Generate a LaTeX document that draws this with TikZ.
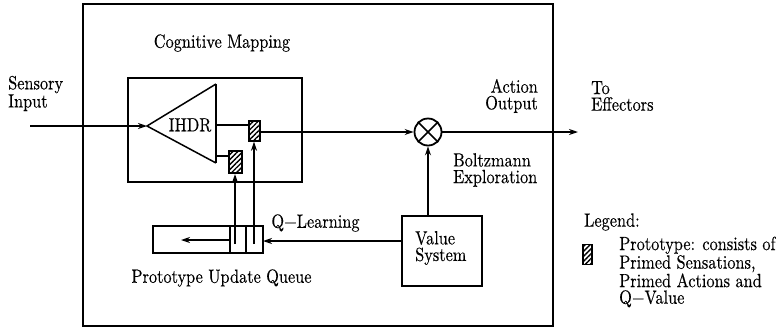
\documentclass[tikz,border=0pt]{standalone}
\usepackage{fontspec}
\setmainfont{lmroman10-regular.otf}
\newfontfamily\lmheavy{lmroman10-regular.otf}[FakeBold=0.3]
\usetikzlibrary{arrows.meta,patterns.meta}
\begin{document}
\begin{tikzpicture}[x=1pt,y=-1pt,
  txt/.style={font=\lmheavy\fontsize{16.3}{14.2}\selectfont, inner sep=0pt, yscale=1.17},
  arr/.style={-{Stealth[length=9pt,width=6pt]}},
  ln/.style={line width=1.5pt},
  proto/.style={draw, line width=2pt, inner sep=0pt,
    pattern={Lines[angle=45,distance=3.5pt,line width=1.4pt]}},
  box/.style={draw, line width=2pt, inner sep=0pt}]
\useasboundingbox (0,0) rectangle (776,330);
% outer box
\node[box, minimum width=470pt, minimum height=322pt] (outer) at (318,165) {};
\node[txt] (cm) at (222,43) {Cognitive Mapping};
% inner cognitive mapping box
\node[box, line width=1.8pt, minimum width=174pt, minimum height=104pt] (inner) at (215,130) {};
% IHDR triangle
\coordinate (apex) at (147,126);
\coordinate (ttop) at (216,84);
\coordinate (tbot) at (216,163);
\draw[ln, line join=miter] (ttop) -- (apex) -- (tbot);
\draw[ln] (ttop) -- (tbot);
\node[txt] (ihdr) at (190,125) {IHDR};
% prototypes
\node[proto, minimum width=11pt, minimum height=20pt] (p1) at (254,131) {};
\node[proto, minimum width=13pt, minimum height=22pt] (p2) at (235,162) {};
\coordinate (t1) at (216,125);
\coordinate (t2) at (216,156);
\draw[ln] (t1) -- (t1 -| p1.west);
\draw[ln] (t2) -- (t2 -| p2.west);
% multiplier
\node[draw, circle, line width=1.8pt, minimum size=27pt, inner sep=0pt] (mul) at (428,132) {};
\draw[ln] (mul.north west) -- (mul.south east);
\draw[ln] (mul.north east) -- (mul.south west);
% input
\coordinate (in) at (30,126);
\draw[ln, arr] (in) -- (apex);
\node[txt, anchor=west, align=left] (sens) at (8,93.5) {Sensory\\Input};
% main line
\draw[ln, arr] (p1.east |- mul.west) -- (mul.west);
\coordinate (out) at (578,132);
\draw[ln, arr] (mul.east) -- (out);
\node[txt, anchor=east, align=right] (act) at (538,96) {Action\\Output};
\node[txt, anchor=west, align=left] (eff) at (591,96) {To\\Effectors};
\node[txt, anchor=west, align=left] (boltz) at (453,170) {Boltzmann\\Exploration};
% value system
\node[box, minimum width=80pt, minimum height=70pt] (vs) at (442,251) {};
\node[txt, anchor=west, align=left] (vst) at (415,248) {Value\\System};
\draw[ln, arr] (mul |- vs.north) -- (mul.south);
% queue
\node[box, minimum width=110pt, minimum height=27pt] (q) at (208,239.5) {};
\coordinate (d1t) at (230,226);
\coordinate (d1b) at (230,253);
\coordinate (d2t) at (246,226);
\coordinate (d2b) at (246,253);
\draw[line width=2pt] (d1t) -- (d1b);
\draw[line width=2pt] (d2t) -- (d2b);
\coordinate (qe) at (263,241);
\draw[ln, arr] (vs.west |- qe) -- (qe);
\node[txt] (ql) at (315.5,223) {Q−Learning};
\coordinate (qa1) at (230,240);
\coordinate (qa2) at (181,240);
\draw[ln, arr] (qa1) -- (qa2);
\coordinate (c1) at (235,244);
\coordinate (c2) at (254,244);
\draw[ln, arr] (c1) -- (p2.south);
\draw[ln, arr] (c2) -- (p1.south);
\node[txt] (pq) at (221.5,278) {Prototype Update Queue};
% legend
\node[txt, anchor=west] (leg) at (584,222) {Legend:};
\node[proto, line width=1.8pt, minimum width=9pt, minimum height=20pt] (lp) at (587.5,254.5) {};
\node[txt, anchor=west, align=left] (legt) at (619,272) {Prototype: consists of\\Primed Sensations,\\Primed Actions and\\Q−Value};
\end{tikzpicture}
\end{document}
